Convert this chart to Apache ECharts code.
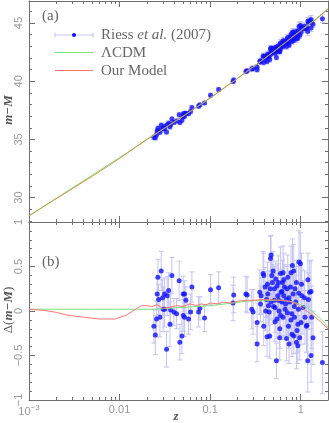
<!DOCTYPE html>
<html lang="en">
<head>
<meta charset="UTF-8">
<title>m-M vs z</title>
<script src="https://cdn.jsdelivr.net/npm/echarts@6/dist/echarts.min.js"></script>
<style>
  html, body { margin: 0; padding: 0; background: #fff; }
  #chart { width: 329px; height: 423px; }
</style>
</head>
<body>
<div id="chart"></div>
<script>
// Riess et al. (2007) supernovae: redshift, m-M (panel a), residual (panel b), error
var snZ = [
  0.0239, 0.0248, 0.0256, 0.0260, 0.0265, 0.0270, 0.0279, 0.0288, 0.0299, 0.0303,
  0.0314, 0.0314, 0.0330, 0.0336, 0.0348, 0.0360, 0.0366, 0.0378, 0.0398, 0.0426,
  0.0455, 0.0463, 0.0488, 0.0504, 0.0522, 0.0504, 0.0522, 0.0540, 0.0578, 0.0608,
  0.0629, 0.0745, 0.0770, 0.0867, 0.101, 0.124, 0.179, 0.182,
  0.248, 0.256, 0.288, 0.298, 0.330, 0.330, 0.353, 0.365, 0.384, 0.404,
  0.419, 0.433, 0.440, 0.448, 0.455, 0.463, 0.470, 0.479, 0.487, 0.495,
  0.513, 0.513, 0.521, 0.530, 0.539, 0.548, 0.558, 0.567, 0.576, 0.587,
  0.597, 0.607, 0.618, 0.628, 0.639, 0.650, 0.661, 0.672, 0.696, 0.706,
  0.719, 0.732, 0.744, 0.757, 0.770, 0.782, 0.796, 0.810, 0.823, 0.837,
  0.852, 0.865, 0.881, 0.897, 0.910, 0.927, 0.943, 0.958, 0.975, 0.992,
  1.008, 1.026, 1.060, 1.115, 1.156, 1.194, 1.216, 1.256, 1.299, 1.322,
  1.366, 1.735,
  0.639, 0.837, 1.20, 1.17, 0.391, 0.39, 0.425, 0.587, 0.696, 0.897, 0.80,
  0.46, 0.50, 0.55, 0.60, 0.62, 0.68, 0.74, 0.78, 0.85, 0.95, 0.93,
  0.47, 0.52, 0.57, 0.65, 0.71, 0.36, 0.41, 0.43, 1.02, 1.10, 1.30
];
var snMu = [
  35.18, 35.15, 35.41, 35.72, 35.95, 35.74, 35.62, 36.21, 35.99, 35.89,
  36.14, 35.97, 35.63, 36.26, 36.40, 36.09, 36.29, 36.75, 36.46, 36.59,
  37.11, 36.45, 36.64, 37.18, 37.26, 36.94, 37.00, 37.26, 37.21, 37.40,
  37.75, 37.86, 37.97, 38.14, 38.80, 39.29, 39.98, 40.11,
  40.84, 40.90, 41.05, 41.10, 41.22, 40.98, 41.73, 41.77, 42.15, 42.13,
  42.09, 42.23, 42.14, 42.11, 41.88, 42.79, 42.87, 42.68, 42.64, 42.83,
  42.73, 42.60, 42.55, 42.92, 42.04, 42.55, 42.86, 43.05, 42.77, 42.61,
  43.29, 43.12, 43.05, 43.32, 42.98, 43.27, 43.42, 43.20, 43.42, 43.58,
  43.76, 43.26, 43.10, 43.61, 43.83, 44.04, 43.62, 44.21, 43.94, 43.51,
  43.77, 44.13, 44.02, 44.29, 43.80, 43.69, 44.14, 44.72, 43.93, 44.80,
  44.19, 44.55, 44.51, 44.54, 44.54, 44.27, 45.01, 45.18, 44.57, 45.05,
  44.91, 45.38,
  43.49, 44.24, 45.19, 44.60, 42.18, 41.61, 41.70, 42.53, 42.98, 43.64, 43.42,
  42.44, 42.47, 42.94, 42.84, 43.20, 43.31, 43.61, 43.50, 43.89, 44.36, 43.94,
  42.34, 42.40, 42.87, 43.45, 43.33, 41.65, 41.90, 42.33, 44.65, 44.73, 45.30
];
var snDelta = [
  -0.17, -0.27, -0.09, 0.19, 0.38, 0.13, -0.07, 0.45, 0.15, 0.02,
  0.19, 0.02, -0.43, 0.17, 0.23, -0.15, 0.01, 0.40, -0.01, -0.03,
  0.34, -0.35, -0.28, 0.19, 0.19, -0.05, -0.07, 0.12, -0.09, -0.01,
  0.27, -0.01, 0.03, -0.08, 0.24, 0.26, 0.09, 0.18,
  0.19, 0.18, 0.02, -0.01, -0.13, -0.37, 0.21, 0.17, 0.42, 0.27,
  0.13, 0.19, 0.06, -0.01, -0.28, 0.59, 0.63, 0.40, 0.32, 0.45,
  0.25, 0.12, 0.04, 0.36, -0.56, -0.09, 0.17, 0.32, 0.00, -0.20,
  0.42, 0.21, 0.10, 0.32, -0.07, 0.17, 0.27, 0.02, 0.13, 0.25,
  0.38, -0.17, -0.37, 0.10, 0.27, 0.43, -0.03, 0.51, 0.19, -0.28,
  -0.07, 0.25, 0.10, 0.32, -0.22, -0.39, 0.02, 0.55, -0.30, 0.53,
  -0.13, 0.17, 0.04, -0.07, -0.17, -0.56, 0.13, 0.21, -0.50, -0.07,
  -0.30, -0.58,
  0.43, 0.45, 0.35, -0.16, 0.40, -0.17, -0.29, -0.30, -0.31, -0.35, -0.26,
  0.25, 0.05, 0.28, -0.05, 0.22, 0.08, 0.15, -0.10, 0.05, 0.20, -0.15,
  0.10, -0.12, 0.12, 0.35, -0.02, 0.08, 0.00, 0.30, 0.30, 0.15, 0.22
];
var snErr = [
  0.19, 0.22, 0.20, 0.18, 0.20, 0.17, 0.22, 0.22, 0.20, 0.25,
  0.18, 0.20, 0.20, 0.22, 0.20, 0.25, 0.18, 0.20, 0.15, 0.17,
  0.22, 0.20, 0.20, 0.20, 0.15, 0.18, 0.22, 0.15, 0.17, 0.20,
  0.17, 0.17, 0.13, 0.15, 0.17, 0.18, 0.20, 0.20,
  0.20, 0.20, 0.22, 0.25, 0.22, 0.20, 0.25, 0.20, 0.25, 0.22,
  0.20, 0.25, 0.22, 0.30, 0.25, 0.25, 0.22, 0.25, 0.20, 0.22,
  0.25, 0.20, 0.28, 0.20, 0.20, 0.22, 0.25, 0.30, 0.25, 0.22,
  0.30, 0.25, 0.20, 0.25, 0.25, 0.20, 0.25, 0.30, 0.22, 0.25,
  0.25, 0.25, 0.22, 0.30, 0.25, 0.30, 0.25, 0.30, 0.25, 0.20,
  0.30, 0.25, 0.30, 0.25, 0.25, 0.20, 0.30, 0.35, 0.25, 0.35,
  0.25, 0.30, 0.30, 0.30, 0.30, 0.35, 0.30, 0.35, 0.30, 0.35,
  0.30, 0.35,
  0.30, 0.30, 0.30, 0.30, 0.25, 0.22, 0.22, 0.25, 0.25, 0.30, 0.25,
  0.20, 0.20, 0.25, 0.22, 0.25, 0.25, 0.30, 0.25, 0.30, 0.30, 0.30,
  0.20, 0.22, 0.25, 0.30, 0.25, 0.20, 0.22, 0.25, 0.35, 0.30, 0.35
];

// model curves, panel (a)
var curveZTop = [0.001, 0.002, 0.005, 0.01, 0.02, 0.05, 0.1, 0.2, 0.3, 0.5, 0.7, 1.0, 1.5, 2.0];
var lcdmMuTop = [28.43, 29.94, 31.93, 33.44, 34.97, 36.98, 38.54, 40.23, 41.24, 42.53, 43.42, 44.37, 45.42, 46.23];
var modelMuTop = [28.43, 29.91, 31.83, 33.36, 35.01, 36.99, 38.57, 40.25, 41.25, 42.53, 43.42, 44.32, 45.36, 46.21];

// model curves, panel (b)
var lcdmZRes = [0.001, 0.005, 0.01, 0.02, 0.024, 0.05, 0.1, 0.18, 0.25, 0.4, 0.6, 0.75, 0.9, 1.0, 1.2, 1.4, 1.7, 2.0];
var lcdmRes = [0.02, 0.02, 0.02, 0.02, 0.02, 0.04, 0.06, 0.09, 0.11, 0.12, 0.12, 0.11, 0.09, 0.07, 0.03, -0.02, -0.10, -0.18];
var modelZRes = [0.001, 0.0015, 0.002, 0.0026, 0.004, 0.006, 0.009, 0.012, 0.0155, 0.0175, 0.02, 0.0226, 0.026,
  0.03, 0.035, 0.043, 0.05, 0.06, 0.071, 0.08, 0.09, 0.101, 0.12, 0.14, 0.17, 0.2, 0.256, 0.3,
  0.39, 0.5, 0.65, 0.8, 0.91, 1.05, 1.28, 1.45, 1.65, 2.0];
var modelRes = [0.02, 0.005, -0.015, -0.045, -0.07, -0.09, -0.09, -0.045, 0.03, 0.06, 0.06, 0.05, 0.07,
  0.03, 0.04, 0.06, 0.05, 0.08, 0.06, 0.08, 0.07, 0.09, 0.08, 0.10, 0.09, 0.11, 0.12, 0.12,
  0.13, 0.125, 0.12, 0.10, 0.08, 0.03, -0.03, -0.07, -0.12, -0.20];

// tick values
var xMajorTicks = [0.001, 0.01, 0.1, 1];
var xMinorTicks = [0.002, 0.003, 0.004, 0.005, 0.006, 0.007, 0.008, 0.009,
  0.02, 0.03, 0.04, 0.05, 0.06, 0.07, 0.08, 0.09,
  0.2, 0.3, 0.4, 0.5, 0.6, 0.7, 0.8, 0.9, 2];
var yTopMajor = [30, 35, 40, 45];
var yTopMinor = [28, 29, 31, 32, 33, 34, 36, 37, 38, 39, 41, 42, 43, 44, 46];

var axisColor = '#707070';
var labelColor = '#999999';
var errColor = '#c4c4f4';
var dotColor = '#1010ff';
var greenColor = '#7be27b';
var redColor = '#ff7474';
var nameColor = '#555';

var myChart = echarts.init(document.getElementById('chart'));

function zip(a, b) {
  var out = [];
  for (var i = 0; i < a.length; i++) out.push([a[i], b[i]]);
  return out;
}
function errData(vals) {
  var out = [];
  for (var i = 0; i < snZ.length; i++) out.push([snZ[i], vals[i] - snErr[i], vals[i] + snErr[i]]);
  return out;
}

// vertical error bar with small caps
function errorBar(params, api) {
  var lo = api.coord([api.value(0), api.value(1)]);
  var hi = api.coord([api.value(0), api.value(2)]);
  var w = 2.5;
  var st = { stroke: errColor, lineWidth: 1 };
  return {
    type: 'group',
    children: [
      { type: 'line', shape: { x1: lo[0], y1: lo[1], x2: hi[0], y2: hi[1] }, style: st },
      { type: 'line', shape: { x1: lo[0] - w, y1: lo[1], x2: lo[0] + w, y2: lo[1] }, style: st },
      { type: 'line', shape: { x1: hi[0] - w, y1: hi[1], x2: hi[0] + w, y2: hi[1] }, style: st }
    ]
  };
}

function logAxis(grid, pos, ticks, len, line, label) {
  var ax = {
    type: 'log', logBase: 10, gridIndex: grid, position: pos,
    min: 0.001, max: 2,
    axisLine: { show: line, onZero: false, lineStyle: { color: axisColor, width: 1 } },
    axisTick: { show: true, inside: true, length: len, customValues: ticks, lineStyle: { color: axisColor } },
    axisLabel: { show: false },
    splitLine: { show: false }
  };
  if (label) {
    ax.axisLabel = {
      show: true, margin: 4, color: labelColor, fontSize: 11, fontFamily: 'Liberation Sans',
      customValues: xMajorTicks,
      formatter: function (v) {
        if (v < 0.005) return '{b|10}{s|−3}';
        return String(+(+v).toPrecision(3));
      },
      rich: {
        b: { fontSize: 11, color: labelColor, fontFamily: 'Liberation Sans' },
        s: { fontSize: 8, color: labelColor, fontFamily: 'Liberation Sans', padding: [0, 0, 7, 0] }
      }
    };
  }
  return ax;
}

function topYAxis(pos, ticks, len, line, label) {
  var ax = {
    type: 'value', gridIndex: 0, position: pos, min: 27.9, max: 46.9,
    axisLine: { show: line, lineStyle: { color: axisColor, width: 1 } },
    axisTick: { show: true, inside: true, length: len, customValues: ticks, lineStyle: { color: axisColor } },
    axisLabel: { show: false },
    splitLine: { show: false }
  };
  if (label) {
    ax.axisLabel = { show: true, rotate: 90, margin: 5, color: labelColor, fontSize: 11,
      fontFamily: 'Liberation Sans', customValues: yTopMajor };
  }
  return ax;
}

function resYAxis(pos, label) {
  var ax = {
    type: 'value', gridIndex: 1, position: pos, min: -1, max: 1, interval: 0.5,
    axisLine: { show: true, lineStyle: { color: axisColor, width: 1 } },
    axisTick: { show: true, inside: true, length: 6, lineStyle: { color: axisColor } },
    minorTick: { show: true, splitNumber: 5, length: 3, lineStyle: { color: axisColor } },
    axisLabel: { show: false },
    splitLine: { show: false }
  };
  if (label) {
    ax.axisLabel = { show: true, rotate: 90, margin: 5, color: labelColor, fontSize: 11,
      fontFamily: 'Liberation Sans', showMinLabel: true, showMaxLabel: true,
      formatter: function (v) { return String(v).replace('-', '−'); } };
  }
  return ax;
}

var serifItalic = 'italic bold 13px "Liberation Serif"';

var option = {
  animation: false,
  backgroundColor: '#fff',
  textStyle: { fontFamily: 'Liberation Sans' },
  grid: [
    { left: 29, right: 1, top: 1, height: 221, outerBoundsMode: 'none' },
    { left: 29, right: 1, top: 222, height: 178, outerBoundsMode: 'none' }
  ],
  xAxis: [
    logAxis(0, 'bottom', xMajorTicks, 6, true, false),
    logAxis(0, 'bottom', xMinorTicks, 3, false, false),
    logAxis(0, 'top', xMajorTicks, 6, true, false),
    logAxis(0, 'top', xMinorTicks, 3, false, false),
    logAxis(1, 'bottom', xMajorTicks, 6, true, true),
    logAxis(1, 'bottom', xMinorTicks, 3, false, false),
    logAxis(1, 'top', xMajorTicks, 6, true, false),
    logAxis(1, 'top', xMinorTicks, 3, false, false)
  ],
  yAxis: [
    topYAxis('left', yTopMajor, 6, true, true),
    topYAxis('left', yTopMinor, 3, false, false),
    topYAxis('right', yTopMajor, 6, true, false),
    topYAxis('right', yTopMinor, 3, false, false),
    resYAxis('left', true),
    resYAxis('right', false)
  ],
  graphic: [
    // axis titles
    { type: 'text', x: 9, y: 110, rotation: Math.PI / 2,
      style: { text: 'm−M', align: 'center', verticalAlign: 'middle', font: serifItalic, fill: nameColor } },
    { type: 'text', x: 9, y: 310, rotation: Math.PI / 2,
      style: { text: '{n|Δ(}{i|m−M}{n|)}', align: 'center', verticalAlign: 'middle',
        rich: {
          n: { font: '13px "Liberation Serif"', fill: nameColor },
          i: { font: serifItalic, fill: nameColor }
        } } },
    { type: 'text', x: 176, y: 417,
      style: { text: 'z', align: 'center', verticalAlign: 'middle', font: serifItalic, fill: nameColor } },
    // panel labels
    { type: 'text', left: 42, top: 9, style: { text: '(a)', font: '15px "Liberation Serif"', fill: '#666' } },
    { type: 'text', left: 42, top: 255, style: { text: '(b)', font: '15px "Liberation Serif"', fill: '#666' } },
    // legend
    { type: 'line', shape: { x1: 55, y1: 35, x2: 93, y2: 35 }, style: { stroke: errColor, lineWidth: 1 } },
    { type: 'line', shape: { x1: 55, y1: 32.5, x2: 55, y2: 37.5 }, style: { stroke: errColor, lineWidth: 1 } },
    { type: 'line', shape: { x1: 93, y1: 32.5, x2: 93, y2: 37.5 }, style: { stroke: errColor, lineWidth: 1 } },
    { type: 'circle', shape: { cx: 74, cy: 35, r: 2 }, style: { fill: dotColor } },
    { type: 'text', x: 101, y: 35, style: {
        text: '{n|Riess }{i|et al.}{n| (2007)}', verticalAlign: 'middle',
        rich: {
          n: { font: '15px "Liberation Serif"', fill: '#666' },
          i: { font: 'italic 15px "Liberation Serif"', fill: '#666' }
        } } },
    { type: 'line', shape: { x1: 55, y1: 52.5, x2: 93, y2: 52.5 }, style: { stroke: greenColor, lineWidth: 1 } },
    { type: 'text', x: 101, y: 53, style: { text: 'ΛCDM', verticalAlign: 'middle', font: '15px "Liberation Serif"', fill: '#666' } },
    { type: 'line', shape: { x1: 55, y1: 70.5, x2: 93, y2: 70.5 }, style: { stroke: redColor, lineWidth: 1 } },
    { type: 'text', x: 101, y: 71, style: { text: 'Our Model', verticalAlign: 'middle', font: '15px "Liberation Serif"', fill: '#666' } }
  ],
  series: [
    {
      name: 'err a', type: 'custom', xAxisIndex: 0, yAxisIndex: 0, clip: true,
      renderItem: errorBar, encode: { x: 0, y: [1, 2] }, data: errData(snMu), z: 1
    },
    {
      name: 'Riess et al. (2007)', type: 'scatter', xAxisIndex: 0, yAxisIndex: 0,
      symbolSize: 5, itemStyle: { color: dotColor }, data: zip(snZ, snMu), z: 2
    },
    {
      name: 'ΛCDM', type: 'line', xAxisIndex: 0, yAxisIndex: 0, showSymbol: false, symbol: 'none',
      lineStyle: { color: greenColor, width: 1 }, data: zip(curveZTop, lcdmMuTop), z: 3
    },
    {
      // red drawn over green: the pair reads as orange-brown, as in the reference
      name: 'Our Model', type: 'line', xAxisIndex: 0, yAxisIndex: 0, showSymbol: false, symbol: 'none',
      lineStyle: { color: '#d9863c', width: 1, opacity: 0.9 }, data: zip(curveZTop, modelMuTop), z: 4
    },
    {
      name: 'err b', type: 'custom', xAxisIndex: 4, yAxisIndex: 4, clip: true,
      renderItem: errorBar, encode: { x: 0, y: [1, 2] }, data: errData(snDelta), z: 1
    },
    {
      name: 'Riess b', type: 'scatter', xAxisIndex: 4, yAxisIndex: 4,
      symbolSize: 5, itemStyle: { color: dotColor }, data: zip(snZ, snDelta), z: 2
    },
    {
      name: 'ΛCDM b', type: 'line', xAxisIndex: 4, yAxisIndex: 4, showSymbol: false, symbol: 'none',
      lineStyle: { color: greenColor, width: 1 }, data: zip(lcdmZRes, lcdmRes), z: 3
    },
    {
      name: 'Our Model b', type: 'line', xAxisIndex: 4, yAxisIndex: 4, showSymbol: false, symbol: 'none',
      lineStyle: { color: redColor, width: 1 }, data: zip(modelZRes, modelRes), z: 4
    }
  ]
};

myChart.setOption(option);
</script>
</body>
</html>
